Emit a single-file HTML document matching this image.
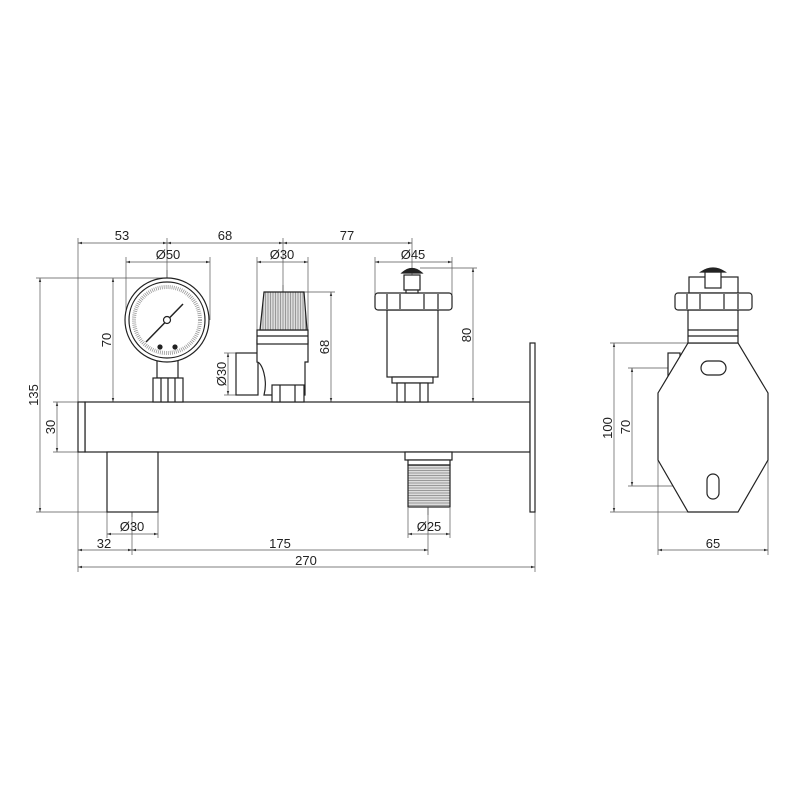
<!DOCTYPE html>
<html><head><style>body{margin:0;background:#fff}svg{display:block}text{font-family:"Liberation Sans",Arial,sans-serif;font-size:13px;fill:#222}</style></head><body>
<svg width="800" height="800" viewBox="0 0 800 800" xmlns="http://www.w3.org/2000/svg">
<defs>
<marker id="a" viewBox="0 0 10 10" refX="10" refY="5" markerWidth="6" markerHeight="6" orient="auto-start-reverse"><path d="M0,2L10,5L0,8z" fill="#333"/></marker>
<pattern id="h" width="2.5" height="4" patternUnits="userSpaceOnUse"><rect width="2.5" height="4" fill="#ddd"/><line x1="0.5" y1="0" x2="0.5" y2="4" stroke="#888" stroke-width="0.8"/></pattern>
<pattern id="t" width="4" height="2.5" patternUnits="userSpaceOnUse"><rect width="4" height="2.5" fill="#ddd"/><line x1="0" y1="0.5" x2="4" y2="0.5" stroke="#888" stroke-width="0.8"/></pattern>
</defs>
<g fill="none" stroke="#555" stroke-width="0.7">
<line x1="78" y1="238" x2="78" y2="572"/>
<line x1="167" y1="238" x2="167" y2="300"/>
<line x1="283" y1="238" x2="283" y2="292"/>
<line x1="412" y1="238" x2="412" y2="268"/>
<line x1="126" y1="257" x2="126" y2="320"/><line x1="210" y1="257" x2="210" y2="320"/>
<line x1="257" y1="257" x2="257" y2="330"/><line x1="308" y1="257" x2="308" y2="330"/>
<line x1="375" y1="257" x2="375" y2="295"/><line x1="452" y1="257" x2="452" y2="295"/>
<line x1="36" y1="278" x2="167" y2="278"/>
<line x1="36" y1="512" x2="107" y2="512"/>
<line x1="53" y1="402" x2="78" y2="402"/><line x1="53" y1="452" x2="78" y2="452"/>
<line x1="304" y1="292" x2="335" y2="292"/>
<line x1="420" y1="268" x2="477" y2="268"/>
<line x1="224" y1="353" x2="236" y2="353"/><line x1="224" y1="395" x2="236" y2="395"/>
<line x1="107" y1="512" x2="107" y2="538"/><line x1="158" y1="512" x2="158" y2="538"/>
<line x1="132" y1="508" x2="132" y2="555"/>
<line x1="408" y1="508" x2="408" y2="538"/><line x1="450" y1="508" x2="450" y2="538"/>
<line x1="428" y1="508" x2="428" y2="555"/>
<line x1="535" y1="512" x2="535" y2="572"/>
<line x1="78" y1="243" x2="167" y2="243" marker-start="url(#a)" marker-end="url(#a)"/>
<line x1="167" y1="243" x2="283" y2="243" marker-start="url(#a)" marker-end="url(#a)"/>
<line x1="283" y1="243" x2="412" y2="243" marker-start="url(#a)" marker-end="url(#a)"/>
<line x1="126" y1="262" x2="210" y2="262" marker-start="url(#a)" marker-end="url(#a)"/>
<line x1="257" y1="262" x2="308" y2="262" marker-start="url(#a)" marker-end="url(#a)"/>
<line x1="375" y1="262" x2="452" y2="262" marker-start="url(#a)" marker-end="url(#a)"/>
<line x1="40" y1="278" x2="40" y2="512" marker-start="url(#a)" marker-end="url(#a)"/>
<line x1="57" y1="402" x2="57" y2="452" marker-start="url(#a)" marker-end="url(#a)"/>
<line x1="113" y1="278" x2="113" y2="402" marker-start="url(#a)" marker-end="url(#a)"/>
<line x1="331" y1="292" x2="331" y2="402" marker-start="url(#a)" marker-end="url(#a)"/>
<line x1="473" y1="268" x2="473" y2="402" marker-start="url(#a)" marker-end="url(#a)"/>
<line x1="228" y1="353" x2="228" y2="395" marker-start="url(#a)" marker-end="url(#a)"/>
<line x1="107" y1="534" x2="158" y2="534" marker-start="url(#a)" marker-end="url(#a)"/>
<line x1="408" y1="534" x2="450" y2="534" marker-start="url(#a)" marker-end="url(#a)"/>
<line x1="78" y1="550" x2="132" y2="550" marker-start="url(#a)" marker-end="url(#a)"/>
<line x1="132" y1="550" x2="428" y2="550" marker-start="url(#a)" marker-end="url(#a)"/>
<line x1="78" y1="567" x2="535" y2="567" marker-start="url(#a)" marker-end="url(#a)"/>
<line x1="610" y1="343" x2="688" y2="343"/><line x1="610" y1="512" x2="688" y2="512"/>
<line x1="628" y1="368" x2="713" y2="368"/><line x1="628" y1="486" x2="713" y2="486"/>
<line x1="614" y1="343" x2="614" y2="512" marker-start="url(#a)" marker-end="url(#a)"/>
<line x1="632" y1="368" x2="632" y2="486" marker-start="url(#a)" marker-end="url(#a)"/>
<line x1="658" y1="393" x2="658" y2="555"/><line x1="768" y1="460" x2="768" y2="555"/>
<line x1="658" y1="550" x2="768" y2="550" marker-start="url(#a)" marker-end="url(#a)"/>
</g>
<g stroke="#555" stroke-width="0.7" stroke-dasharray="12,3,2,3" fill="none">
<line x1="167" y1="270" x2="167" y2="410"/>
<line x1="283" y1="285" x2="283" y2="410"/>
<line x1="412" y1="270" x2="412" y2="410"/>
<line x1="132" y1="445" x2="132" y2="520"/>
<line x1="428" y1="445" x2="428" y2="515"/>
</g>
<g fill="#fff" stroke="#222" stroke-width="1.2">
<rect x="85" y="402" width="445" height="50"/>
<rect x="78" y="402" width="7" height="50"/>
<rect x="530" y="343" width="5" height="169"/>
<rect x="107" y="452" width="51" height="60"/>
<rect x="405" y="452" width="47" height="8"/>
<rect x="408" y="460" width="42" height="5"/>
<rect x="408" y="465" width="42" height="42" fill="url(#t)"/>
<rect x="157" y="360" width="21" height="18"/>
<rect x="153" y="378" width="30" height="24"/>
<line x1="161" y1="378" x2="161" y2="402"/><line x1="168" y1="378" x2="168" y2="402"/><line x1="175" y1="378" x2="175" y2="402"/>
<circle cx="167" cy="320" r="42"/>
<circle cx="167" cy="320" r="38"/>
<circle cx="167" cy="320" r="33" stroke="#999" stroke-width="4" stroke-dasharray="0.8,1.2" fill="none"/>
<line x1="146" y1="342" x2="183" y2="304" stroke-width="1.5"/>
<circle cx="167" cy="320" r="3.5"/>
<circle cx="160" cy="347" r="2" fill="#222"/><circle cx="175" cy="347" r="2" fill="#222"/>
<rect x="236" y="353" width="22" height="42"/>
<path d="M257 340 H308 V362 H305 V395 H264 C268 380 262 362 257 362 Z"/>
<rect x="257" y="330" width="51" height="14"/>
<line x1="257" y1="336" x2="308" y2="336"/>
<path d="M264 292 H304 L307 330 H260 Z" fill="url(#h)"/>
<rect x="272" y="385" width="32" height="17"/>
<line x1="280" y1="385" x2="280" y2="402"/><line x1="295" y1="385" x2="295" y2="402"/>
<rect x="387" y="310" width="51" height="67"/>
<rect x="392" y="377" width="41" height="6"/>
<rect x="397" y="383" width="31" height="19"/>
<line x1="405" y1="383" x2="405" y2="402"/><line x1="420" y1="383" x2="420" y2="402"/>
<rect x="375" y="293" width="77" height="17" rx="3"/>
<line x1="387" y1="294" x2="387" y2="309"/><line x1="400" y1="294" x2="400" y2="309"/><line x1="424" y1="294" x2="424" y2="309"/><line x1="438" y1="294" x2="438" y2="309"/>
<rect x="404" y="275" width="16" height="15"/>
<rect x="406" y="290" width="12" height="3"/>
<path d="M402 273 Q412 264 422 273 Z" fill="#222"/>
<rect x="668" y="353" width="12" height="30"/>
<path d="M688 343 H738 L768 393 V460 L738 512 H688 L658 460 V393 Z"/>
<rect x="688" y="310" width="50" height="33"/>
<line x1="688" y1="330" x2="738" y2="330"/><line x1="688" y1="336" x2="738" y2="336"/>
<rect x="689" y="277" width="49" height="16"/>
<rect x="675" y="293" width="77" height="17" rx="3"/>
<line x1="687" y1="294" x2="687" y2="309"/><line x1="700" y1="294" x2="700" y2="309"/><line x1="724" y1="294" x2="724" y2="309"/><line x1="738" y1="294" x2="738" y2="309"/>
<rect x="705" y="272" width="16" height="16"/>
<path d="M701 272 Q713 264 725 272 Z" fill="#222"/>
<rect x="701" y="361" width="25" height="14" rx="7"/>
<rect x="707" y="474" width="12" height="25" rx="6"/>
</g>
<g text-anchor="middle">
<text x="122" y="243" dy="-3">53</text>
<text x="225" y="243" dy="-3">68</text>
<text x="347" y="243" dy="-3">77</text>
<text x="168" y="262" dy="-3">Ø50</text>
<text x="282" y="262" dy="-3">Ø30</text>
<text x="413" y="262" dy="-3">Ø45</text>
<text x="132" y="531">Ø30</text>
<text x="429" y="531">Ø25</text>
<text x="104" y="548">32</text>
<text x="280" y="548">175</text>
<text x="306" y="565">270</text>
<text x="713" y="548">65</text>
<text transform="translate(38,395) rotate(-90)">135</text>
<text transform="translate(55,427) rotate(-90)">30</text>
<text transform="translate(111,340) rotate(-90)">70</text>
<text transform="translate(226,374) rotate(-90)">Ø30</text>
<text transform="translate(329,347) rotate(-90)">68</text>
<text transform="translate(471,335) rotate(-90)">80</text>
<text transform="translate(612,428) rotate(-90)">100</text>
<text transform="translate(630,427) rotate(-90)">70</text>
</g>
</svg>
</body></html>
